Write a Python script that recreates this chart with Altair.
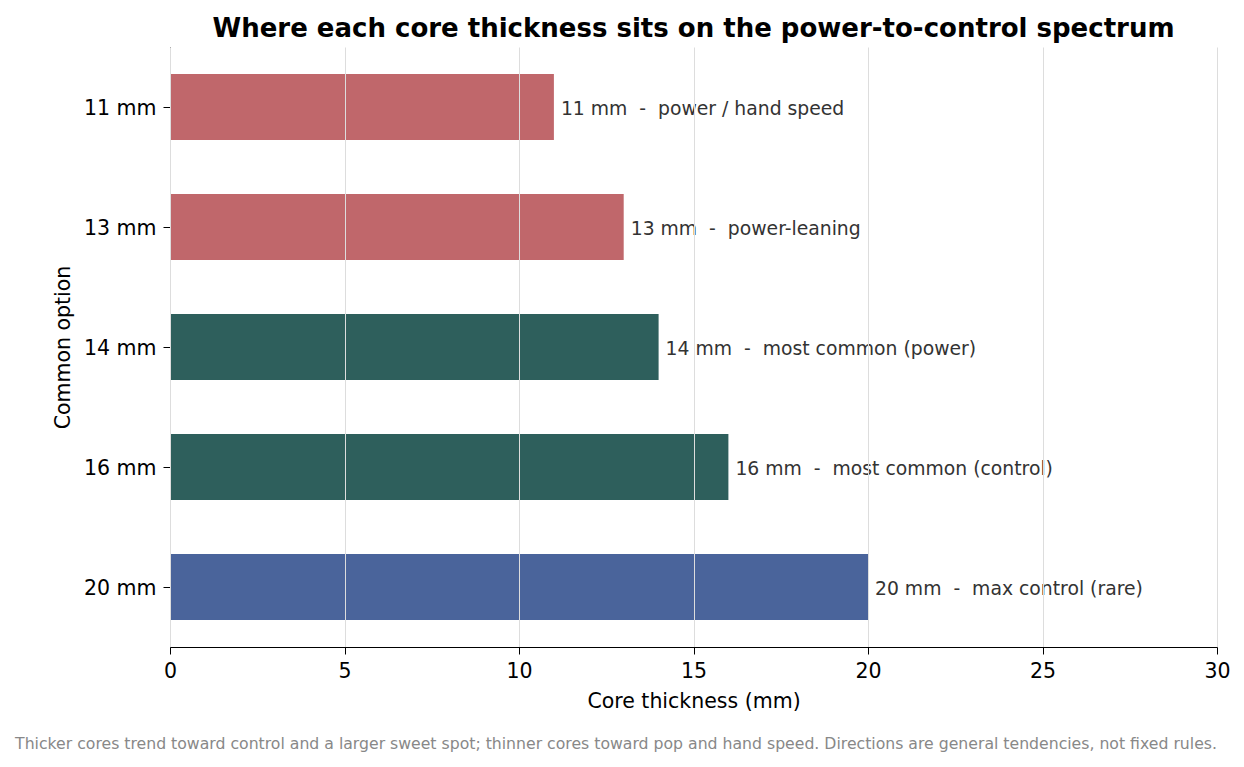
import altair as alt
import pandas as pd

options = ["11 mm", "13 mm", "14 mm", "16 mm", "20 mm"]
thickness = [11, 13, 14, 16, 20]
notes = ["power / hand speed", "power-leaning", "most common (power)", "most common (control)", "max control (rare)"]
groups = ["power", "power", "common", "common", "control"]
group_colors = ["#c0676b", "#2e5f5c", "#4a649b"]
group_names = ["power", "common", "control"]

df = pd.DataFrame({
    "option": options,
    "thickness": thickness,
    "group": groups,
    "label": [f"{o}\u00a0 -\u00a0 {n}" for o, n in zip(options, notes)],
})

FONT = "DejaVu Sans"

y_enc = alt.Y("option:N", sort=options, title="Common option",
              scale=alt.Scale(paddingInner=0.45, paddingOuter=0.225),
              axis=alt.Axis(labelFontSize=20.5, titleFontSize=20.5, labelColor="#000", titleColor="#000",
                            titleFontWeight="normal", domainColor="#000", tickColor="#000",
                            labelPadding=7, titlePadding=10, tickSize=7, grid=False, labelOffset=2))
x_enc = alt.X("thickness:Q", title="Core thickness (mm)",
              scale=alt.Scale(domain=[0, 30], nice=False),
              axis=alt.Axis(values=[0, 5, 10, 15, 20, 25, 30], labelFontSize=20.5, titleFontSize=20.5,
                            labelColor="#000", titleColor="#000", titleFontWeight="normal",
                            domainColor="#000", tickColor="#000", tickSize=7, labelPadding=7,
                            titlePadding=10, grid=True, gridColor="#dddddd", gridWidth=1, zindex=1,
                            labelFlush=False))

bars = alt.Chart(df).mark_bar(size=66).encode(
    x=x_enc, y=y_enc,
    color=alt.Color("group:N", scale=alt.Scale(domain=group_names, range=group_colors), legend=None),
)

labels = alt.Chart(df).mark_text(align="left", baseline="middle", dx=7, dy=2, fontSize=18.8,
                                 color="#333333", font=FONT).encode(
    x="thickness:Q", y=alt.Y("option:N", sort=options), text="label:N")

foot = alt.Chart(pd.DataFrame({"t": ["Thicker cores trend toward control and a larger sweet spot; thinner cores toward pop and hand speed. Directions are general tendencies, not fixed rules."]})).mark_text(
    fontSize=15.7, color="#888888", font=FONT, align="center", baseline="middle").encode(
    x=alt.value(446), y=alt.value(697), text="t:N")

chart = alt.layer(bars, labels, foot).properties(
    width=1047, height=600,
    title=alt.TitleParams("Where each core thickness sits on the power-to-control spectrum",
                          fontSize=26, fontWeight="bold", font=FONT, color="#000", anchor="middle",
                          offset=5),
    autosize=alt.AutoSizeParams(type="none"),
    padding={"left": 162, "top": 39, "right": 19, "bottom": 112},
).configure(font=FONT).configure_view(stroke=None)

chart.save("out.html", embed_options={"renderer": "svg", "actions": False})
